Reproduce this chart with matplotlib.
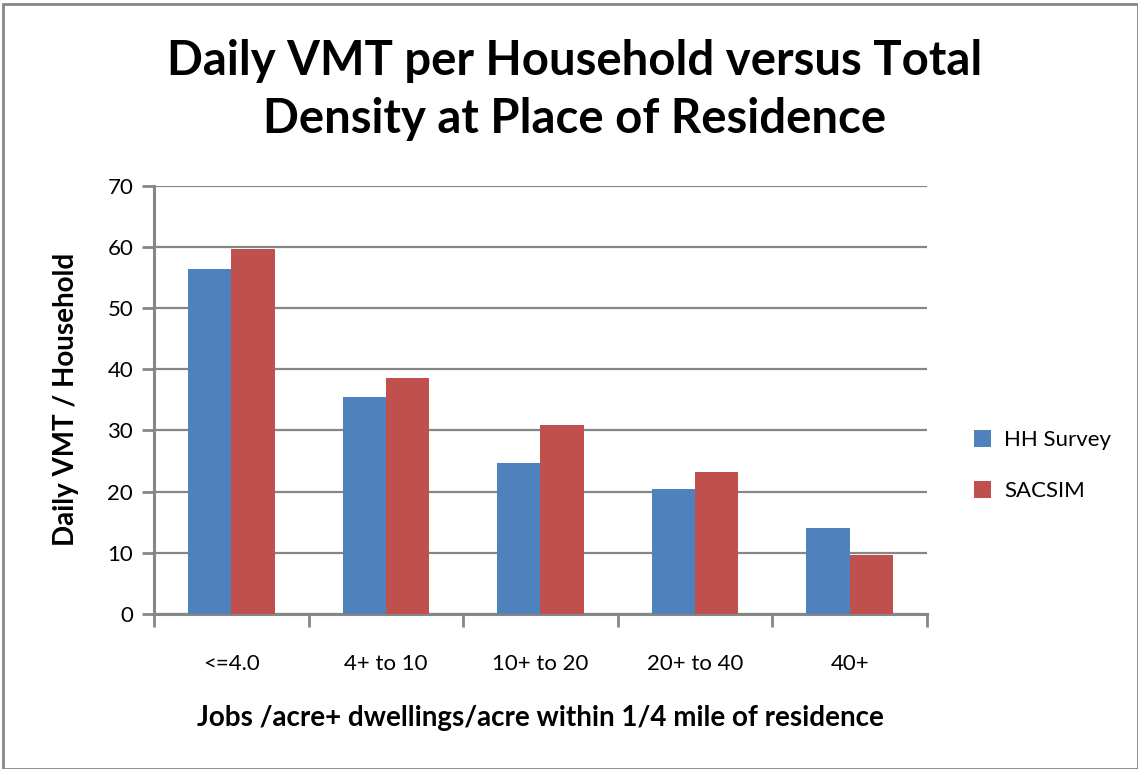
import numpy as np
import matplotlib.pyplot as plt
from matplotlib.patches import Rectangle

categories = ['<=4.0', '4+ to 10', '10+ to 20', '20+ to 40', '40+']
hh_survey = [56.4, 35.5, 24.6, 20.4, 14.1]
sacsim = [59.6, 38.6, 30.9, 23.2, 9.6]

blue = '#4F81BD'
red = '#C0504D'
grey = '#868686'

plt.rcParams['font.family'] = ['Lato', 'DejaVu Sans']

fig = plt.figure(figsize=(11.38, 7.69), dpi=100)
ax = fig.add_axes([0.1353, 0.2016, 0.6793, 0.5569])

index = np.arange(len(categories))
bar_width = 0.28

ax.bar(index - bar_width / 2, hh_survey, bar_width, color=blue, label='HH Survey', zorder=3)
ax.bar(index + bar_width / 2, sacsim, bar_width, color=red, label='SACSIM', zorder=3)

ax.set_xlim(-0.5, len(categories) - 0.5)
ax.set_ylim(0, 70)
ax.set_yticks(range(0, 71, 10))
ax.yaxis.grid(True, color=grey, linewidth=1.6, zorder=0)
ax.set_axisbelow(True)

ax.set_xticks(index)
ax.set_xticklabels(categories, fontsize=16)
ax.set_xticks(np.arange(-0.5, len(categories)), minor=True)
ax.tick_params(axis='x', which='major', length=0, pad=29)
ax.tick_params(axis='x', which='minor', length=9, width=2, color=grey, direction='out')
ax.tick_params(axis='y', length=9, width=2, color=grey, labelsize=16, pad=6)

for side in ['top', 'right']:
    ax.spines[side].set_visible(False)
for side in ['left', 'bottom']:
    ax.spines[side].set_color(grey)
    ax.spines[side].set_linewidth(2.2)

ax.set_ylabel('Daily VMT / Household', fontsize=20, fontweight='bold', labelpad=20)
ax.set_xlabel('Jobs /acre+ dwellings/acre within 1/4 mile of residence',
              fontsize=20, fontweight='bold', labelpad=22)

fig.text(0.505, 0.883, 'Daily VMT per Household versus Total\nDensity at Place of Residence',
         ha='center', va='center', fontsize=34, fontweight='bold', linespacing=1.38)

ax.legend(loc='center left', bbox_to_anchor=(1.035, 0.346), frameon=False, fontsize=16,
          handlelength=0.75, handleheight=0.75, labelspacing=1.4, handletextpad=0.6)

fig.patches.append(Rectangle((0.003, 0.0), 0.997, 0.995, transform=fig.transFigure,
                             fill=False, edgecolor=grey, linewidth=2))

fig.savefig('out.png', dpi=100)
